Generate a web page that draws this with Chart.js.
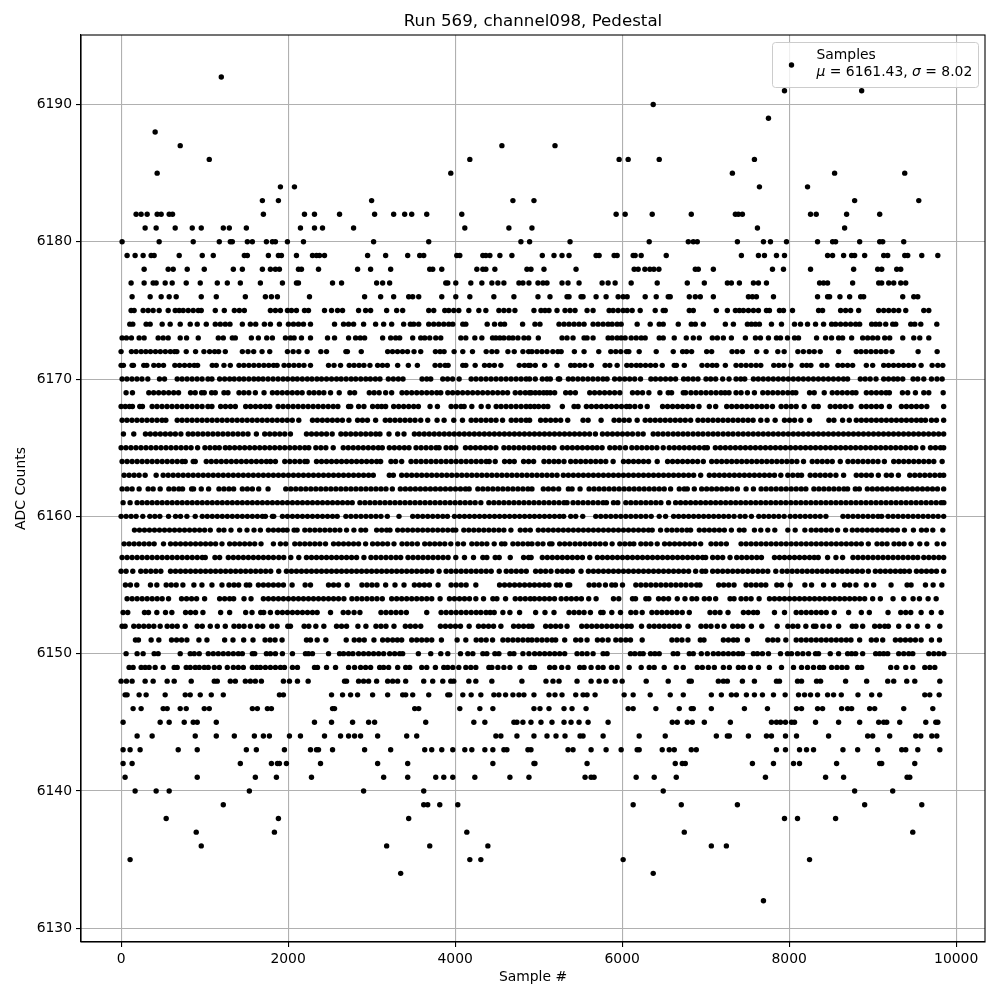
<!DOCTYPE html>
<html lang="en">
<head>
    <meta charset="UTF-8">
    <title>Run 569, channel098, Pedestal</title>
    <script src="https://cdn.jsdelivr.net/npm/chart.js@4.4.0"></script>
    <style>
        body { margin: 0; background: #fff; }
        canvas { display: block; }
    </style>
</head>
<body>
    <canvas id="pedestalChart" width="1000" height="1000"></canvas>

    <script>
        // sample numbers, one list per ADC level
        const level6192 = [1200];
        const level6191 = [7944,8868];
        const level6190 = [6372];
        const level6189 = [7752];
        const level6188 = [408];
        const level6187 = [708,4560,5196];
        const level6186 = [1056,4176,5964,6072,6444,7584];
        const level6185 = [432,3948,7320,8544,9384];
        const level6184 = [1908,2076,7644,8220];
        const level6183 = [1692,1884,3000,4692,4944,8784,9552];
        const level6182 = [180,240,312,432,480,576,616,1704,2196,2316,2616,3036,3264,3396,3480,3660,4080,5928,6036,6360,6828,7356,7392,7440,8256,8324,8688,9084];
        const level6181 = [288,420,648,852,960,1224,1296,1500,2148,2316,2412,2784,4116,4644,4920,7620,8664];
        const level6180 = [12,456,864,1176,1308,1332,1512,1572,1740,1812,1848,1992,2184,3024,3684,4788,4892,5376,6324,6792,6852,6900,7380,7692,7776,7968,8340,8520,8556,8844,9084,9120,9372];
        const level6179 = [72,168,264,360,396,696,972,1104,1476,1512,1764,1884,1920,2100,2292,2340,2376,2436,2952,3168,3432,3576,3624,4020,4056,4332,4368,4416,4536,4680,5044,5184,5280,5364,5688,5724,5904,5940,6132,6156,6228,6528,7428,7632,7704,7848,7944,8460,8520,8652,8748,8784,8904,9132,9180,9384,9420,9588,9780];
        const level6178 = [276,564,624,792,996,1344,1452,1692,1788,1848,1896,2124,2160,2364,2832,2988,3228,3696,3732,3840,4260,4332,4368,4476,4860,4908,5064,5448,6144,6192,6272,6332,6380,6440,6876,6912,7092,7800,7932,8256,8772,9060,9108,9288,9336];
        const level6177 = [120,276,384,420,528,612,780,948,1152,1272,1428,1668,1932,2100,2124,2532,2640,3060,3132,3216,3888,3912,4008,4188,4320,4440,4512,4584,4764,4812,4884,4992,5052,5100,5280,5352,5484,5760,5832,5916,6108,6420,6780,6984,7260,7308,7404,7572,7632,7728,8364,8412,8460,8760,9072,9108,9192,9252,9336,9396];
        const level6176 = [132,348,480,576,660,960,1140,1488,1728,1800,1872,2256,2916,3108,3264,3444,3492,3564,3840,4008,4176,4464,4704,4992,5136,5340,5364,5508,5532,5688,5808,5952,6012,6060,6276,6408,6552,6576,6804,6876,6936,7092,7512,7560,7608,7812,8340,8460,8484,8608,8724,8856,8892,9360,9492,9540];
        const level6175 = [120,156,264,324,384,456,564,648,696,744,804,864,924,960,1128,1236,1356,1416,1476,1788,1848,1908,1992,2040,2100,2196,2244,2436,2520,2592,2652,2844,2928,2988,3180,3300,3372,3684,3744,3876,3924,3984,4044,4164,4284,4368,4524,4584,4644,4716,4944,5028,5076,5124,5220,5316,5376,5436,5580,5652,5844,5892,5952,6012,6060,6120,6216,6396,6492,6516,6804,6852,7128,7260,7356,7404,7452,7512,7572,7632,7728,7764,7884,7932,8040,8352,8400,8616,8676,8736,8832,9072,9132,9192,9252,9312,9396,9612,9672];
        const level6174 = [104,140,300,348,492,588,708,828,912,1020,1128,1188,1248,1304,1452,1548,1612,1716,1788,1896,2004,2064,2124,2184,2268,2556,2664,2724,2784,2904,3048,3144,3240,3384,3464,3504,3564,3684,3744,3804,3864,3924,3972,4092,4128,4384,4472,4544,4592,4808,4956,5016,5244,5304,5364,5424,5484,5544,5652,5712,5772,5832,5880,5940,5988,6180,6336,6444,6492,6672,6828,6876,6972,7236,7332,7500,7548,7596,7644,7788,7908,8064,8136,8220,8316,8412,8508,8556,8616,8676,8736,8796,8844,8988,9036,9084,9156,9240,9276,9456,9504,9576,9768];
        const level6173 = [12,64,124,216,276,444,504,564,708,784,924,1164,1224,1332,1368,1560,1644,1744,1812,1968,2028,2072,2160,2268,2472,2556,2724,2808,2864,2916,3132,3228,3288,3336,3492,3588,3636,3696,3768,3828,4068,4128,4236,4320,4448,4488,4536,4584,4644,4692,4752,4824,4880,4996,5280,5340,5412,5544,5580,5652,5832,5880,5940,5988,6036,6108,6168,6228,6276,6444,6492,6624,6768,6852,6924,7080,7140,7212,7308,7476,7596,7656,7752,7848,7896,7980,8064,8112,8328,8436,8508,8592,8640,8748,8880,8940,9000,9060,9144,9204,9360,9492,9564,9672];
        const level6172 = [0,124,180,240,296,352,412,470,530,590,640,668,780,892,992,1060,1120,1168,1248,1452,1520,1588,1688,1780,1992,2060,2128,2228,2392,2460,2692,2710,2876,3192,3250,3310,3370,3430,3508,3588,3764,3820,3868,3988,4092,4208,4372,4440,4500,4632,4708,4812,4880,4920,4980,5040,5100,5170,5230,5270,5428,5544,5720,5864,5924,5984,6052,6080,6204,6408,6612,6724,6772,6832,7012,7072,7316,7376,7440,7612,7724,7864,7940,8104,8170,8240,8300,8372,8592,8804,8860,8920,8980,9040,9100,9160,9232,9544,9772];
        const level6171 = [0,28,132,148,272,308,392,450,508,644,700,760,820,876,916,1092,1140,1232,1308,1412,1470,1530,1590,1650,1710,1768,1826,1868,1952,2010,2070,2130,2190,2268,2484,2550,2628,2732,2790,2850,2908,2980,3072,3130,3188,3312,3440,3548,3760,3820,3880,3916,4092,4128,4240,4352,4410,4470,4548,4768,4830,4880,4900,4960,5072,5220,5384,5432,5492,5552,5632,5796,5852,5940,6056,6110,6170,6220,6280,6340,6400,6480,6624,6650,6744,6956,7020,7080,7132,7236,7364,7424,7484,7544,7604,7660,7816,7876,7936,8020,8156,8210,8260,8392,8452,8584,8640,8700,8760,8924,9000,9132,9190,9250,9310,9370,9430,9490,9580,9712,9780,9840];
        const level6170 = [12,70,130,190,250,320,460,520,672,730,790,850,910,970,1040,1088,1180,1240,1300,1355,1415,1470,1530,1590,1645,1700,1760,1820,1880,1940,1995,2055,2110,2170,2230,2285,2345,2400,2460,2520,2580,2635,2695,2755,2810,2870,2930,2985,3045,3100,3200,3260,3320,3376,3604,3660,3708,3852,3910,3970,4048,4192,4250,4310,4370,4430,4490,4550,4610,4670,4730,4790,4850,4892,4960,5044,5100,5140,5236,5252,5356,5410,5470,5530,5590,5650,5710,5770,5820,5910,5970,6030,6090,6150,6220,6344,6400,6460,6520,6580,6640,6736,6790,6850,6908,7004,7060,7120,7204,7280,7364,7420,7468,7572,7630,7690,7750,7810,7870,7930,7990,8050,8110,8170,8230,8290,8350,8410,8470,8530,8590,8650,8700,8852,8910,8970,9040,9132,9190,9250,9300,9360,9484,9540,9612,9704,9770,9832];
        const level6169 = [60,136,332,390,450,510,570,630,688,832,888,964,996,1084,1128,1232,1280,1412,1470,1530,1608,1712,1812,1870,1930,1990,2050,2110,2168,2252,2310,2370,2428,2508,2612,2740,2796,2972,3030,3090,3168,3240,3364,3420,3480,3540,3600,3660,3720,3780,3828,3912,3970,4030,4090,4150,4210,4270,4330,4390,4450,4510,4570,4628,4720,4780,4840,4890,4910,4960,5010,5060,5100,5140,5192,5324,5380,5440,5612,5670,5730,5790,5850,5910,5972,6124,6184,6244,6320,6452,6552,6592,6732,6760,6824,6884,6944,7004,7064,7124,7184,7232,7280,7364,7424,7500,7584,7684,7744,7804,7864,7924,7984,8040,8080,8244,8300,8420,8516,8576,8636,8696,8756,8800,8924,8984,9044,9104,9160,9200,9356,9420,9512,9612,9672,9844];
        const level6168 = [0,50,100,136,224,256,372,430,490,550,610,670,730,790,850,910,970,1040,1088,1192,1250,1310,1368,1492,1550,1610,1670,1730,1780,1880,1940,2000,2060,2120,2180,2240,2300,2360,2420,2480,2540,2596,2724,2750,2844,2908,3012,3072,3120,3168,3264,3324,3384,3444,3504,3560,3700,3788,3952,4010,4070,4108,4200,4312,4396,4492,4550,4610,4670,4730,4790,4850,4900,4950,5000,5060,5110,5284,5424,5472,5572,5632,5692,5752,5812,5872,5932,5992,6052,6092,6152,6220,6300,6484,6544,6604,6664,6724,6784,6844,6920,7044,7120,7252,7312,7372,7432,7492,7552,7612,7672,7732,7800,7904,7964,8024,8084,8180,8296,8348,8492,8552,8612,8672,8740,8864,8924,8984,9044,9104,9200,9344,9404,9464,9524,9584,9648,9850];
        const level6167 = [12,70,130,190,250,310,370,430,490,536,672,730,790,850,910,970,1030,1090,1150,1210,1270,1330,1390,1450,1510,1570,1630,1690,1750,1810,1870,1930,1990,2050,2128,2292,2350,2410,2470,2530,2590,2650,2728,2832,2890,2950,3048,3164,3220,3280,3340,3400,3460,3520,3588,3672,3784,3868,3984,4088,4192,4250,4310,4370,4430,4490,4568,4672,4730,4790,4850,4892,5024,5084,5144,5204,5264,5348,5532,5592,5748,5904,5964,6024,6084,6180,6276,6336,6396,6456,6516,6576,6636,6696,6756,6820,6908,6968,7028,7088,7148,7208,7268,7328,7388,7448,7508,7568,7660,7736,7832,7944,8004,8064,8140,8244,8476,8536,8640,8720,8804,8864,8924,8984,9044,9104,9164,9224,9284,9344,9404,9464,9524,9580,9632,9704,9764,9850];
        const level6166 = [28,152,292,350,410,470,530,590,650,716,804,860,920,980,1040,1100,1160,1220,1280,1340,1400,1460,1520,1620,1720,1780,1840,1900,1960,2028,2220,2280,2340,2400,2460,2528,2632,2690,2750,2810,2870,2930,2990,3050,3100,3208,3312,3388,3512,3570,3630,3690,3750,3810,3870,3930,3990,4050,4110,4170,4230,4290,4350,4410,4470,4530,4590,4650,4710,4770,4830,4890,4950,5010,5070,5130,5190,5250,5310,5370,5430,5490,5550,5610,5680,5764,5824,5884,5944,6004,6064,6124,6190,6252,6372,6430,6490,6550,6612,6670,6730,6788,6850,6910,6968,7030,7090,7148,7210,7270,7328,7390,7450,7510,7570,7630,7690,7750,7810,7870,7930,7990,8050,8110,8170,8230,8290,8350,8410,8470,8530,8590,8650,8710,8770,8830,8890,8950,9010,9070,9130,9190,9250,9310,9370,9430,9490,9550,9610,9670,9730,9790,9850];
        const level6165 = [0,58,118,178,238,298,358,418,478,538,598,658,718,778,838,916,1004,1064,1124,1176,1248,1300,1360,1420,1480,1540,1600,1660,1720,1780,1840,1900,1960,2020,2080,2140,2200,2248,2332,2392,2452,2540,2660,2720,2780,2840,2900,2960,3020,3080,3128,3212,3272,3332,3392,3448,3532,3592,3652,3712,3772,3808,3892,3952,4008,4124,4184,4244,4304,4364,4424,4488,4584,4644,4704,4764,4824,4884,4944,5004,5064,5124,5184,5284,5344,5404,5464,5524,5584,5644,5700,5760,5852,5912,5972,6040,6116,6176,6236,6296,6356,6416,6492,6564,6624,6684,6744,6804,6864,6924,6984,7020,7116,7176,7236,7296,7356,7416,7476,7536,7596,7656,7716,7776,7836,7896,7956,8016,8076,8136,8196,8256,8316,8376,8436,8496,8556,8616,8676,8736,8796,8856,8916,8976,9036,9096,9156,9216,9276,9336,9396,9456,9516,9600,9692,9752,9812,9850];
        const level6164 = [12,72,132,192,252,312,372,432,492,552,612,672,732,768,864,888,1020,1080,1140,1200,1260,1320,1380,1440,1500,1560,1620,1680,1740,1790,1848,1960,2020,2080,2140,2200,2228,2340,2400,2460,2520,2580,2640,2700,2760,2820,2880,2940,3000,3060,3108,3232,3288,3360,3472,3532,3592,3652,3712,3772,3832,3892,3952,4012,4072,4132,4192,4252,4312,4372,4408,4480,4592,4652,4708,4820,4880,4940,5064,5124,5184,5240,5304,5384,5444,5504,5564,5624,5684,5744,5804,5892,6016,6076,6136,6196,6256,6316,6420,6544,6604,6664,6724,6784,6844,6904,6972,7072,7132,7192,7252,7312,7372,7432,7492,7552,7612,7672,7732,7792,7852,7912,7972,8032,8092,8172,8276,8336,8396,8456,8516,8612,8704,8764,8824,8884,8944,9004,9064,9140,9252,9312,9372,9432,9492,9552,9612,9672,9732,9832];
        const level6163 = [36,96,156,216,288,420,504,564,624,684,744,804,864,924,984,1044,1104,1164,1224,1284,1344,1404,1464,1524,1584,1644,1704,1764,1824,1884,1944,2004,2064,2124,2184,2244,2304,2364,2424,2484,2544,2604,2664,2724,2784,2844,2904,2964,3020,3212,3260,3360,3420,3480,3540,3600,3660,3720,3780,3840,3900,3960,4020,4080,4140,4200,4260,4320,4380,4440,4500,4560,4620,4680,4740,4800,4860,4920,4980,5040,5100,5160,5220,5296,5356,5416,5476,5536,5596,5656,5716,5776,5836,5896,5956,6016,6076,6136,6196,6256,6316,6376,6436,6496,6556,6616,6676,6736,6796,6856,6940,7044,7104,7164,7224,7284,7344,7404,7464,7524,7584,7644,7704,7764,7824,7900,7984,8044,8104,8148,8252,8312,8372,8432,8492,8560,8652,8804,8864,8924,8984,9068,9164,9224,9308,9444,9504,9564,9624,9684,9744,9804,9850];
        const level6162 = [12,72,132,216,324,384,468,572,632,692,736,844,868,960,1048,1172,1232,1292,1348,1452,1512,1572,1648,1760,1972,2032,2092,2152,2212,2272,2332,2392,2452,2512,2572,2632,2692,2752,2812,2872,2932,2992,3052,3112,3172,3248,3344,3404,3464,3524,3584,3644,3704,3764,3824,3884,3944,4004,4064,4124,4168,4272,4332,4392,4452,4512,4572,4632,4692,4752,4812,4872,4920,5056,5116,5176,5240,5356,5400,5496,5604,5664,5724,5784,5844,5904,5964,6024,6084,6144,6204,6264,6324,6384,6444,6504,6580,6684,6744,6780,6864,6952,7012,7072,7132,7192,7252,7312,7380,7484,7572,7664,7724,7784,7844,7904,7964,8024,8084,8144,8200,8296,8356,8416,8476,8536,8596,8656,8700,8792,8840,8936,8996,9056,9116,9176,9236,9296,9356,9416,9476,9536,9596,9656,9716,9776,9850];
        const level6161 = [24,108,192,252,312,372,432,492,552,612,672,732,792,852,912,972,1032,1092,1152,1212,1272,1332,1392,1452,1512,1572,1632,1692,1752,1812,1872,1932,1992,2052,2112,2172,2232,2292,2352,2412,2472,2532,2592,2652,2712,2768,2860,2920,2980,3040,3100,3160,3220,3280,3340,3400,3460,3520,3580,3640,3700,3760,3820,3880,3940,4000,4060,4120,4180,4240,4308,4404,4464,4524,4584,4644,4704,4764,4824,4884,4944,5004,5064,5124,5184,5244,5304,5340,5412,5472,5532,5592,5652,5712,5772,5812,5896,5948,6044,6104,6164,6224,6284,6344,6404,6464,6556,6640,6700,6760,6820,6880,6940,7000,7060,7120,7180,7240,7300,7360,7420,7480,7540,7600,7660,7720,7780,7840,7900,7960,8020,8080,8140,8200,8260,8320,8380,8440,8500,8560,8620,8680,8740,8800,8860,8920,8980,9040,9100,9160,9220,9280,9340,9400,9460,9520,9580,9640,9700,9760,9820,9852];
        const level6160 = [0,60,120,180,260,344,404,464,568,652,712,788,888,972,1032,1092,1152,1212,1272,1332,1392,1452,1512,1572,1632,1692,1728,1812,1828,1932,1992,2052,2112,2172,2232,2292,2352,2412,2472,2532,2588,2692,2752,2812,2872,2932,2992,3052,3112,3188,3328,3492,3552,3612,3672,3732,3792,3852,3908,3992,4052,4112,4172,4232,4292,4352,4412,4472,4532,4592,4652,4712,4772,4832,4892,4950,5010,5070,5130,5190,5250,5300,5384,5444,5528,5684,5744,5804,5864,5924,5984,6044,6104,6164,6224,6284,6348,6444,6520,6616,6676,6736,6796,6856,6916,6976,7036,7096,7156,7216,7276,7340,7412,7472,7548,7636,7696,7756,7816,7876,7940,8012,8072,8132,8192,8252,8312,8372,8440,8644,8704,8764,8824,8884,8944,9004,9064,9108,9184,9244,9304,9364,9424,9484,9544,9604,9664,9724,9784,9850];
        const level6159 = [160,220,280,340,400,460,520,580,640,700,760,820,880,940,1000,1068,1172,1232,1316,1420,1508,1592,1668,1764,1824,1884,1940,1988,2072,2108,2200,2260,2320,2380,2440,2500,2560,2620,2700,2788,2872,2928,3060,3120,3180,3220,3312,3372,3432,3492,3552,3612,3672,3732,3792,3852,3912,3972,4008,4104,4164,4224,4284,4344,4404,4464,4524,4584,4668,4780,4840,4900,4996,5056,5116,5176,5236,5296,5356,5416,5476,5536,5596,5656,5716,5776,5836,5896,5956,6016,6076,6136,6196,6256,6316,6360,6460,6536,6596,6656,6716,6776,6820,6924,6984,7044,7104,7164,7224,7308,7404,7460,7584,7660,7744,7828,7984,8072,8188,8264,8324,8384,8444,8504,8580,8676,8756,8816,8876,8936,8996,9056,9116,9176,9236,9296,9380,9488,9584,9644,9720,9840];
        const level6158 = [36,96,156,216,276,336,396,508,592,652,712,772,832,892,952,1012,1072,1132,1208,1300,1360,1420,1480,1540,1600,1676,1824,1908,1972,2080,2140,2200,2260,2320,2380,2448,2544,2604,2664,2724,2784,2844,2928,3012,3072,3132,3192,3268,3364,3424,3484,3548,3636,3696,3756,3816,3876,3948,4032,4100,4200,4260,4320,4380,4468,4556,4596,4692,4752,4812,4872,4920,4990,5052,5132,5160,5252,5312,5372,5436,5496,5556,5616,5676,5736,5800,5880,5972,6032,6092,6140,6224,6284,6344,6420,6508,6568,6628,6688,6748,6808,6868,6940,7064,7124,7184,7248,7424,7484,7544,7604,7664,7724,7784,7844,7904,7964,8024,8084,8144,8204,8264,8324,8384,8444,8504,8564,8624,8684,8744,8804,8864,8948,9052,9112,9172,9256,9316,9376,9460,9564,9648,9772,9850];
        const level6157 = [12,72,132,192,252,312,372,432,492,552,612,672,732,792,852,912,972,1008,1124,1180,1284,1344,1404,1464,1524,1584,1644,1704,1764,1824,1888,1948,2032,2128,2220,2280,2340,2400,2460,2520,2580,2640,2700,2760,2820,2908,2992,3052,3112,3172,3232,3292,3348,3436,3496,3556,3616,3676,3736,3796,3856,3916,4008,4112,4220,4332,4380,4480,4528,4660,4820,4880,4910,5044,5104,5164,5224,5284,5344,5404,5464,5524,5612,5704,5764,5824,5884,5944,6004,6064,6124,6184,6244,6304,6364,6424,6484,6544,6604,6664,6724,6784,6844,6904,6964,7000,7084,7144,7204,7292,7372,7432,7492,7552,7612,7668,7824,7884,7944,8004,8064,8124,8184,8244,8300,8348,8460,8560,8640,8764,8824,8884,8944,9004,9064,9124,9184,9244,9304,9364,9424,9484,9540,9612,9672,9732,9792,9850];
        const level6156 = [0,60,140,236,296,356,416,476,592,652,712,772,832,892,952,1012,1072,1132,1192,1252,1312,1372,1432,1492,1552,1612,1672,1732,1792,1888,1980,2040,2100,2160,2220,2280,2340,2400,2460,2520,2580,2640,2700,2760,2820,2880,2940,3000,3060,3120,3180,3240,3300,3360,3420,3480,3540,3600,3660,3720,3808,3892,3952,4012,4072,4132,4192,4252,4312,4372,4432,4528,4612,4672,4732,4792,4852,4964,5024,5084,5148,5224,5284,5344,5404,5508,5596,5656,5716,5776,5836,5896,5956,6016,6076,6136,6196,6256,6316,6376,6436,6496,6556,6616,6676,6736,6796,6880,6956,7000,7084,7144,7204,7264,7324,7384,7444,7504,7564,7624,7684,7744,7840,7916,7976,8036,8096,8156,8216,8276,8336,8396,8456,8516,8576,8636,8696,8756,8816,8876,8948,9032,9092,9152,9212,9272,9332,9380,9440,9524,9584,9644,9704,9764,9850];
        const level6155 = [52,112,188,352,428,540,600,660,740,872,968,1088,1208,1292,1352,1408,1500,1540,1644,1704,1764,1824,1884,1944,2048,2204,2268,2484,2544,2604,2708,2884,2944,3004,3064,3168,3280,3388,3512,3572,3632,3692,3796,3952,4012,4072,4132,4248,4532,4592,4652,4712,4772,4832,4892,4950,5010,5070,5124,5212,5260,5348,5372,5604,5664,5724,5800,5876,5920,6004,6164,6224,6284,6344,6404,6464,6524,6584,6644,6704,6764,6828,6892,6932,7156,7216,7276,7340,7484,7544,7604,7664,7720,7852,7908,8012,8188,8268,8412,8532,8664,8724,8800,8924,9012,9220,9412,9460,9632,9724,9828];
        const level6154 = [72,132,192,252,312,372,432,492,568,724,784,844,904,1000,1180,1240,1300,1348,1472,1556,1704,1764,1824,1884,1944,2004,2064,2124,2184,2244,2304,2364,2424,2484,2544,2604,2668,2764,2824,2884,2944,3004,3064,3128,3240,3300,3360,3420,3480,3540,3600,3660,3720,3820,3932,3992,4052,4112,4172,4248,4340,4452,4500,4604,4720,4780,4840,4900,4950,5010,5070,5130,5190,5270,5332,5392,5452,5512,5600,5688,5896,5960,6124,6160,6284,6320,6436,6496,6556,6660,6752,6836,6892,6984,7044,7120,7292,7340,7424,7484,7544,7640,7764,7824,7884,7944,8004,8064,8124,8184,8244,8304,8364,8424,8484,8544,8604,8664,8724,8784,8844,8904,9000,9092,9244,9372,9484,9560,9664,9760];
        const level6153 = [24,80,280,328,428,532,608,772,832,892,980,1192,1300,1492,1568,1672,1708,1788,1872,1932,1992,2052,2112,2172,2232,2292,2348,2508,2660,2720,2790,2860,3112,3172,3232,3292,3352,3416,3660,3832,3892,3952,4012,4072,4132,4192,4252,4308,4370,4420,4468,4572,4656,4772,4964,5076,5184,5364,5424,5484,5544,5620,5744,5772,5876,5980,6104,6164,6240,6356,6416,6476,6536,6596,6656,6720,6804,7052,7112,7172,7268,7452,7512,7572,7620,7824,7944,8084,8144,8204,8264,8324,8384,8444,8540,8712,8864,8960,9184,9336,9396,9456,9580,9704,9820];
        const level6152 = [12,48,152,212,272,332,392,468,552,612,672,768,912,972,1068,1152,1248,1352,1412,1472,1548,1632,1696,1804,1868,1996,2028,2192,2248,2332,2428,2580,2640,2700,2836,2932,3052,3112,3172,3268,3404,3464,3524,3588,3824,3884,3944,4004,4064,4168,4280,4340,4400,4460,4548,4700,4760,4820,4880,4920,5084,5144,5204,5264,5340,5516,5576,5636,5696,5756,5816,5876,5936,5996,6056,6108,6232,6324,6384,6444,6504,6564,6624,6684,6788,6944,7004,7064,7140,7220,7324,7384,7444,7548,7672,7856,7984,8044,8104,8200,8292,8320,8404,8480,8592,8756,8800,8880,9024,9084,9144,9188,9312,9428,9532,9660,9804];
        const level6151 = [172,208,360,452,604,664,724,788,932,1028,1240,1340,1468,1580,1724,1784,1844,1928,2220,2268,2348,2452,2696,2792,2852,2912,3028,3132,3192,3252,3308,3360,3480,3540,3600,3660,3720,3836,4024,4128,4252,4312,4372,4448,4572,4632,4692,4752,4812,4872,4920,4980,5040,5100,5160,5204,5312,5444,5504,5580,5704,5764,5832,5924,5984,6044,6100,6240,6596,6656,6716,6788,6936,6980,7212,7272,7332,7380,7500,7744,7804,7864,7960,8084,8144,8204,8264,8324,8384,8444,8504,8564,8624,8684,8740,8844,8984,9044,9120,9272,9332,9392,9452,9512,9580,9704,9800];
        const level6150 = [60,192,264,396,444,708,828,876,936,1044,1104,1164,1224,1284,1344,1404,1452,1572,1600,1740,1788,1848,1932,2052,2208,2244,2292,2484,2616,2664,2724,2776,2844,2904,2964,3024,3084,3144,3216,3276,3336,3372,3560,3708,3828,3912,4064,4152,4212,4332,4380,4476,4524,4656,4704,4812,4884,4952,5012,5072,5132,5192,5252,5312,5460,5520,5580,5652,5772,5820,6100,6152,6212,6252,6340,6392,6444,6612,6664,6804,6852,6948,7020,7092,7152,7212,7272,7332,7392,7440,7572,7620,7680,7752,7896,7980,8028,8100,8164,8232,8316,8352,8492,8592,8700,8748,8796,8880,9036,9084,9132,9180,9312,9372,9432,9480,9672,9732,9792,9852];
        const level6149 = [96,144,240,288,336,408,504,636,672,780,828,888,936,996,1044,1116,1176,1272,1344,1404,1464,1572,1624,1668,1728,1788,1848,1908,1956,2052,2112,2316,2352,2460,2568,2724,2796,2868,2928,2988,3096,3144,3204,3312,3408,3456,3600,3660,3764,3864,3912,3972,4044,4128,4188,4248,4404,4440,4512,4584,4656,4776,4908,4950,5132,5192,5276,5352,5492,5544,5628,5712,5772,5872,5940,6084,6228,6324,6384,6504,6648,6732,6900,6960,7032,7104,7212,7284,7392,7452,7536,7632,7764,7908,8052,8148,8220,8292,8364,8412,8508,8572,8632,8692,8820,8868,9216,9288,9396,9480,9624,9684,9744];
        const level6148 = [0,64,132,288,384,552,636,840,1116,1152,1308,1368,1488,1548,1608,1680,1944,2016,2112,2240,2676,2700,2844,2904,2964,3060,3192,3252,3312,3408,3624,3732,3852,3948,3984,4164,4248,4440,4800,5088,5172,5244,5460,5628,5724,5808,5916,6000,6288,6552,6804,6828,7152,7212,7260,7440,7584,7848,7884,8100,8148,8328,8376,8676,8928,9180,9252,9408,9504,9804];
        const level6147 = [48,72,216,300,528,768,828,948,1080,1224,1896,1944,2520,2652,2748,2832,3012,3192,3372,3408,3492,3684,3912,3936,4092,4192,4308,4464,4524,4604,4692,4764,4824,4944,5124,5196,5280,5444,5532,5580,5676,6024,6132,6336,6576,6732,7068,7188,7308,7368,7488,7584,7680,7812,7952,8112,8184,8256,8340,8460,8532,8624,8824,8988,9084,9624,9684,9796];
        const level6146 = [144,240,504,552,708,780,996,1056,1572,1632,1752,1800,2532,2556,3516,3564,4056,4296,4452,4944,5016,5124,5304,5400,5568,6072,6132,6404,6684,6828,6852,7068,7464,7740,8088,8148,8340,8400,8628,8700,8748,8964,9024,9372,9720];
        const level6145 = [24,468,576,756,864,912,1140,2316,2520,2772,2964,3036,3648,4224,4356,4704,4740,4812,4908,5028,5160,5304,5388,5484,5592,5832,6600,6660,6780,6840,6984,7296,7788,7848,7896,7956,8028,8064,8316,8592,8844,9072,9132,9168,9324,9636,9756,9780];
        const level6144 = [192,372,888,1140,1356,1596,1704,1776,2016,2148,2436,2628,2724,2796,2868,3072,3420,3540,4488,4548,4740,4944,5100,5208,5316,5496,5532,5772,6204,6516,7128,7260,7284,7512,7728,7788,7956,8088,8472,8940,9000,9204,9516,9576,9708,9768];
        const level6143 = [24,108,228,684,912,1500,1620,1956,2268,2340,2364,2532,2916,3228,3636,3720,3840,3972,4116,4200,4356,4452,4584,4620,4872,4908,5352,5412,5628,5808,5988,6180,6204,6480,6564,6624,6828,6888,7848,7956,8124,8208,8292,8644,8820,9060,9348,9396,9540,9804];
        const level6142 = [24,132,1428,1800,1872,1896,1980,2388,3072,3432,4452,4944,4956,5580,6636,6720,6756,7560,7812,8052,8124,8568,9084,9108,9504];
        const level6141 = [48,912,1608,1860,2280,3144,3432,3768,3864,3972,4236,4656,4884,5556,5628,5664,6168,6384,6648,7716,8436,8652,9412,9444];
        const level6140 = [168,420,576,1536,2904,3624,6492,8784,9240];
        const level6139 = [1224,3624,3672,3816,4032,6132,6708,7380,8904,9588];
        const level6138 = [540,1884,3444,7944,8100,8556];
        const level6137 = [900,1836,4140,6744,9480];
        const level6136 = [960,3180,3696,4392,7068,7248];
        const level6135 = [108,4176,4308,6012,8244];
        const level6134 = [3348,6372];
        const level6132 = [7692];

        const adcLevels = [6192,6191,6190,6189,6188,6187,6186,6185,6184,6183,6182,6181,6180,6179,6178,6177,6176,6175,6174,6173,6172,6171,6170,6169,6168,6167,6166,6165,6164,6163,6162,6161,6160,6159,6158,6157,6156,6155,6154,6153,6152,6151,6150,6149,6148,6147,6146,6145,6144,6143,6142,6141,6140,6139,6138,6137,6136,6135,6134,6132];
        const levelSamples = [level6192,level6191,level6190,level6189,level6188,level6187,level6186,level6185,level6184,level6183,level6182,level6181,level6180,level6179,level6178,level6177,level6176,level6175,level6174,level6173,level6172,level6171,level6170,level6169,level6168,level6167,level6166,level6165,level6164,level6163,level6162,level6161,level6160,level6159,level6158,level6157,level6156,level6155,level6154,level6153,level6152,level6151,level6150,level6149,level6148,level6147,level6146,level6145,level6144,level6143,level6142,level6141,level6140,level6139,level6138,level6137,level6136,level6135,level6134,level6132];

        const xTickValues = [0,2000,4000,6000,8000,10000];
        const yTickValues = [6130,6140,6150,6160,6170,6180,6190];

        const seriesLabel = 'Samples';
        const statParts = [['μ', true], [' = 6161.43, ', false], ['σ', true], [' = 8.02', false]];

        const points = [];
        levelSamples.forEach((samples, i) => {
            samples.forEach(s => points.push({ x: s, y: adcLevels[i] }));
        });

        const FONT = '"DejaVu Sans"';

        // matplotlib style legend box + closed frame round the axes
        const framePlugin = {
            id: 'framePlugin',
            afterDatasetsDraw(chart) {
                const ctx = chart.ctx;
                const a = chart.chartArea;
                ctx.save();
                ctx.strokeStyle = '#000';
                ctx.lineWidth = 1.1;
                ctx.strokeRect(a.left, a.top, a.right - a.left, a.bottom - a.top);

                ctx.beginPath();
                ctx.roundRect(772.5, 42.5, 206, 45, 3);
                ctx.fillStyle = 'rgba(255,255,255,0.8)';
                ctx.fill();
                ctx.strokeStyle = '#cccccc';
                ctx.lineWidth = 1;
                ctx.stroke();

                ctx.beginPath();
                ctx.arc(791.5, 65, 2.7, 0, Math.PI * 2);
                ctx.fillStyle = '#000';
                ctx.fill();

                ctx.fillStyle = '#000';
                ctx.textBaseline = 'alphabetic';
                ctx.textAlign = 'left';
                ctx.font = '13.9px ' + FONT;
                ctx.fillText(seriesLabel, 816.5, 59);
                let x = 816.5;
                statParts.forEach(([txt, italic]) => {
                    ctx.font = (italic ? 'italic ' : '') + '13.9px ' + FONT;
                    ctx.fillText(txt, x, 76);
                    x += ctx.measureText(txt).width;
                });
                ctx.restore();
            }
        };

        new Chart(document.getElementById('pedestalChart'), {
            type: 'scatter',
            data: {
                datasets: [{
                    label: seriesLabel,
                    data: points,
                    backgroundColor: '#000',
                    borderWidth: 0,
                    pointRadius: 2.7
                }]
            },
            options: {
                responsive: false,
                animation: false,
                layout: { padding: { left: 0, right: 15, top: 0, bottom: 0 } },
                plugins: {
                    legend: { display: false },
                    tooltip: { enabled: false },
                    title: {
                        display: true,
                        text: 'Run 569, channel098, Pedestal',
                        color: '#000',
                        fullSize: false,
                        font: { family: FONT, size: 16.67, weight: 'normal' },
                        padding: { top: 12, bottom: 3 }
                    }
                },
                scales: {
                    x: {
                        type: 'linear',
                        min: -480,
                        max: 10345,
                        afterBuildTicks(s) { s.ticks = xTickValues.map(v => ({ value: v })); },
                        afterFit(s) { s.height = 58; s.paddingRight = 0; s.paddingLeft = 0; },
                        grid: { color: '#b0b0b0', lineWidth: 1.1, tickColor: '#000', tickLength: 5 },
                        border: { color: '#000', width: 1.1 },
                        ticks: {
                            maxRotation: 0,
                            autoSkip: false,
                            color: '#000',
                            padding: 4,
                            font: { family: FONT, size: 13.9 },
                            callback: v => String(v)
                        },
                        title: { display: true, text: 'Sample #', color: '#000', font: { family: FONT, size: 13.9 }, padding: { top: 4, bottom: 14.7 } }
                    },
                    y: {
                        min: 6129,
                        max: 6195.06,
                        afterBuildTicks(s) { s.ticks = yTickValues.map(v => ({ value: v })); },
                        afterFit(s) { s.width = 81; s.paddingTop = 0; s.paddingBottom = 0; },
                        grid: { color: '#b0b0b0', lineWidth: 1.1, tickColor: '#000', tickLength: 5 },
                        border: { color: '#000', width: 1.1 },
                        ticks: {
                            autoSkip: false,
                            color: '#000',
                            padding: 4,
                            font: { family: FONT, size: 13.9 },
                            callback: v => String(v)
                        },
                        title: { display: true, text: 'ADC Counts', color: '#000', font: { family: FONT, size: 13.9 }, padding: { top: 12.7, bottom: 4 } }
                    }
                }
            },
            plugins: [framePlugin]
        });
    </script>
</body>
</html>
